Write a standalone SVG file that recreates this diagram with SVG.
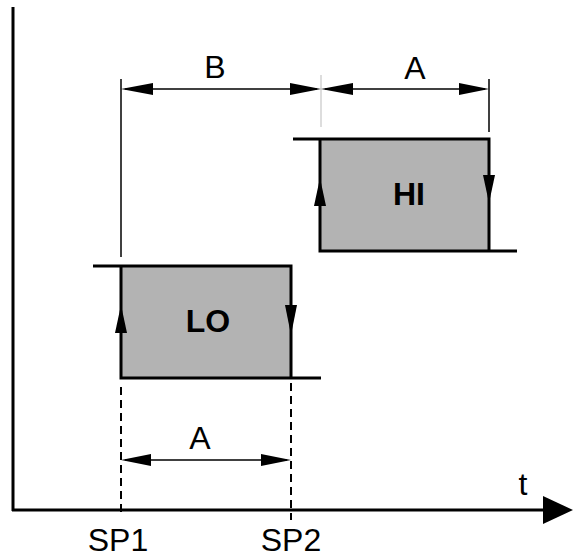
<svg xmlns="http://www.w3.org/2000/svg" width="573" height="558" viewBox="0 0 573 558">
<style>
.lbl{font-family:"Liberation Sans",Arial,sans-serif;font-size:32px;fill:#000;text-anchor:middle}
.bold{font-weight:bold;font-size:32px}
.box{fill:#b3b3b3;stroke:none}
.edge{stroke:#000;stroke-width:3;fill:none}
.dim{stroke:#000;stroke-width:1.3;fill:none}
.ext{stroke:#000;stroke-width:1.5;fill:none}
.dash{stroke:#000;stroke-width:2;stroke-dasharray:8,5;fill:none}
.head{fill:#000}
</style>
<rect width="573" height="558" fill="#fff"/>
<g id="axes">
<line x1="13" y1="7" x2="13" y2="511" class="edge"/>
<line x1="12" y1="510" x2="545" y2="510" class="edge"/>
<polygon points="543,496 573,510 543,524" class="head"/>
<text x="523" y="495" class="lbl">t</text>
<text x="118" y="551" class="lbl">SP1</text>
<text x="291" y="551" class="lbl">SP2</text>
</g>
<g id="lo">
<rect x="121" y="266" width="170" height="112" class="box"/>
<polyline points="93,266 291,266 291,378" class="edge"/>
<polyline points="121,266 121,378 321,378" class="edge"/>
<polygon points="121,305 115,333 127,333" class="head"/>
<polygon points="285,305 297,305 291,335" class="head"/>
<text x="208" y="332" class="lbl bold">LO</text>
</g>
<g id="hi">
<rect x="320" y="139" width="169" height="112" class="box"/>
<polyline points="293,139 489,139 489,251" class="edge"/>
<polyline points="320,139 320,251 517,251" class="edge"/>
<polygon points="320,178 314,206 326,206" class="head"/>
<polygon points="483,175 495,175 489,203" class="head"/>
<text x="409" y="205" class="lbl bold">HI</text>
</g>
<g id="connectors">
<line x1="121" y1="79" x2="121" y2="257" class="ext"/>
<line x1="321" y1="75" x2="321" y2="127" stroke="#bbb" stroke-width="1"/>
<line x1="489" y1="79" x2="489" y2="132" class="ext"/>
<line x1="121" y1="387" x2="121" y2="512" class="dash"/>
<line x1="291" y1="383" x2="291" y2="520" class="dash"/>
<line x1="125" y1="89" x2="317" y2="89" class="dim"/>
<polygon points="121,89 153,83 153,95" class="head"/>
<polygon points="321,89 290,83 290,95" class="head"/>
<line x1="325" y1="89" x2="485" y2="89" class="dim"/>
<polygon points="321,89 353,83 353,95" class="head"/>
<polygon points="489,89 459,83 459,95" class="head"/>
<line x1="125" y1="460" x2="287" y2="460" class="dim"/>
<polygon points="121,460 151,454 151,466" class="head"/>
<polygon points="291,460 261,454 261,466" class="head"/>
<text x="215" y="78" class="lbl">B</text>
<text x="415" y="79" class="lbl">A</text>
<text x="200" y="449" class="lbl">A</text>
</g>
</svg>
